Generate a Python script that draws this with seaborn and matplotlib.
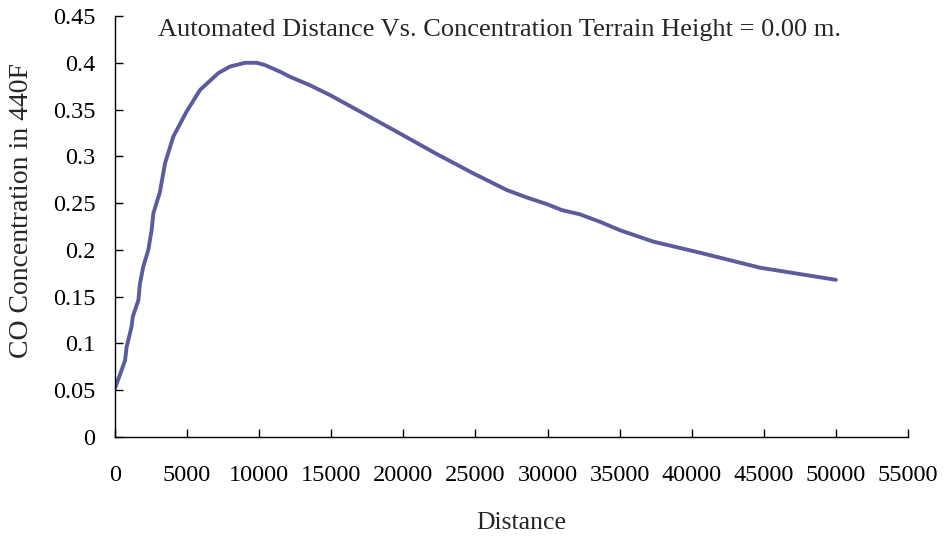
import numpy as np
import pandas as pd
import matplotlib
matplotlib.use("Agg")
import matplotlib.pyplot as plt
import seaborn as sns

# values
distance = [0, 460, 700, 810, 1150, 1230, 1620, 1730, 1960, 2310, 2540, 2660,
            3120, 3120, 3470, 4040, 4970, 5900, 7170, 7980, 9020, 9830, 10400,
            11440, 12140, 13520, 14910, 17220, 19540, 22310, 24850, 27170,
            28560, 29940, 30980, 32250, 33640, 35030, 37340, 40570, 44730, 50000]
concentration = [0.052, 0.0716, 0.082, 0.0965, 0.118, 0.1286, 0.146, 0.164,
                 0.182, 0.200, 0.221, 0.239, 0.257, 0.2675, 0.2925, 0.321,
                 0.348, 0.371, 0.389, 0.396, 0.400, 0.400, 0.3976, 0.3905,
                 0.385, 0.376, 0.3655, 0.346, 0.3263, 0.3025, 0.2818, 0.264,
                 0.256, 0.249, 0.2426, 0.238, 0.230, 0.221, 0.2088, 0.197,
                 0.181, 0.168]
x_ticks = list(range(0, 55001, 5000))
y_ticks = [0, 0.05, 0.1, 0.15, 0.2, 0.25, 0.3, 0.35, 0.4, 0.45]
y_tick_labels = ["0", "0.05", "0.1", "0.15", "0.2", "0.25", "0.3", "0.35", "0.4", "0.45"]

df = pd.DataFrame({"Distance": distance, "Concentration": concentration})

sns.set_style("ticks")
plt.rcParams["font.family"] = ["Liberation Serif", "DejaVu Serif"]

fig = plt.figure(figsize=(9.45, 5.38), dpi=100)
ax = fig.add_axes([115 / 945, 1 - 437 / 538, 793 / 945, 421 / 538])

sns.lineplot(data=df, x="Distance", y="Concentration", sort=False,
             color="#5c5c9c", linewidth=2.8, ax=ax)

ax.set_xlim(0, 55000)
ax.set_ylim(0, 0.45)
ax.set_xticks(x_ticks)
ax.set_xticklabels([str(v) for v in x_ticks])
ax.set_yticks(y_ticks)
ax.set_yticklabels(y_tick_labels)
ax.tick_params(axis="both", direction="in", length=6, width=1, labelsize=17.5,
               colors="black")
ax.tick_params(axis="x", pad=20)
ax.tick_params(axis="y", pad=14)
sns.despine(ax=ax)
for s in ["left", "bottom"]:
    ax.spines[s].set_linewidth(1)
    ax.spines[s].set_color("black")

ax.set_xlabel("Distance", fontsize=18.5, va="center")
ax.set_ylabel("CO Concentration in 440F", fontsize=20, va="center")
ax.xaxis.set_label_coords((521 - 115) / 793, -(523 - 437) / 421)
ax.yaxis.set_label_coords((22 - 115) / 793, (437 - 211) / 421)

ax.text((500 - 115) / 793, (437 - 30) / 421,
        "Automated Distance Vs. Concentration Terrain Height = 0.00 m.",
        transform=ax.transAxes, ha="center", va="center", fontsize=19)

fig.savefig("out.png", dpi=100)
